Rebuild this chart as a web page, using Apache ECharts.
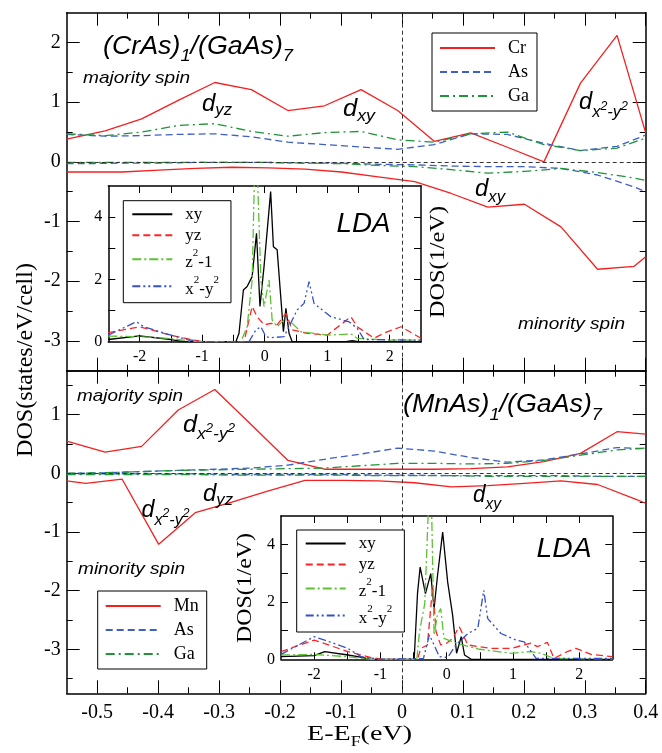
<!DOCTYPE html>
<html><head><meta charset="utf-8">
<script src="https://cdn.jsdelivr.net/npm/echarts@6/dist/echarts.min.js"></script>
<style>html,body{margin:0;padding:0;background:#fff}#c{width:662px;height:753px}</style>
</head><body><div id="c"></div>
<script>
// ---------- main panels: energy grids (eV) ----------
const energyUp = [-0.55, -0.487, -0.427, -0.367, -0.307, -0.247, -0.187, -0.127, -0.067, -0.007, 0.053, 0.113, 0.173, 0.233, 0.293, 0.353, 0.4];
const energyDn = [-0.55, -0.519, -0.459, -0.399, -0.339, -0.279, -0.219, -0.159, -0.099, -0.039, 0.021, 0.081, 0.141, 0.201, 0.261, 0.321, 0.381, 0.4];

// (CrAs)1/(GaAs)7
const crUp = [0.38, 0.52, 0.72, 1.03, 1.33, 1.21, 0.86, 0.94, 1.21, 0.86, 0.345, 0.485, 0.245, 0.0, 1.32, 2.12, 0.485];
const asUpCr = [0.46, 0.43, 0.44, 0.46, 0.47, 0.42, 0.33, 0.29, 0.25, 0.21, 0.29, 0.47, 0.46, 0.31, 0.19, 0.26, 0.45];
const gaUpCr = [0.47, 0.44, 0.50, 0.61, 0.64, 0.51, 0.43, 0.49, 0.51, 0.37, 0.33, 0.47, 0.50, 0.29, 0.19, 0.23, 0.40];
const crDn = [-0.17, -0.17, -0.17, -0.14, -0.11, -0.09, -0.10, -0.12, -0.17, -0.25, -0.33, -0.53, -0.76, -0.71, -1.09, -1.80, -1.75, -1.59];
const asDnCr = [-0.03, -0.03, -0.02, -0.02, -0.01, -0.01, -0.01, -0.02, -0.02, -0.04, -0.05, -0.07, -0.08, -0.08, -0.11, -0.22, -0.42, -0.50];
const gaDnCr = [-0.01, -0.01, -0.01, -0.01, -0.01, -0.01, -0.01, -0.02, -0.03, -0.06, -0.08, -0.13, -0.19, -0.16, -0.11, -0.18, -0.27, -0.31];

// (MnAs)1/(GaAs)7
const mnUp = [0.55, 0.36, 0.46, 1.08, 1.43, 0.83, 0.22, 0.07, 0.07, 0.07, 0.07, 0.08, 0.11, 0.20, 0.34, 0.71, 0.67];
const asUpMn = [0.00, 0.01, 0.03, 0.05, 0.07, 0.09, 0.14, 0.24, 0.33, 0.43, 0.38, 0.27, 0.19, 0.23, 0.33, 0.44, 0.42];
const gaUpMn = [0.00, 0.01, 0.03, 0.05, 0.06, 0.07, 0.08, 0.09, 0.13, 0.17, 0.17, 0.16, 0.17, 0.22, 0.31, 0.40, 0.43];
const mnDn = [-0.13, -0.17, -0.10, -1.21, -0.67, -0.49, -0.30, -0.12, -0.12, -0.13, -0.16, -0.23, -0.21, -0.17, -0.13, -0.19, -0.43, -0.51];
const asDnMn = [-0.01, -0.01, -0.01, -0.01, -0.01, -0.02, -0.02, -0.02, -0.02, -0.03, -0.03, -0.04, -0.04, -0.04, -0.04, -0.05, -0.05, -0.05];
const gaDnMn = [-0.02, -0.02, -0.02, -0.02, -0.02, -0.03, -0.03, -0.03, -0.03, -0.04, -0.04, -0.04, -0.05, -0.05, -0.05, -0.05, -0.05, -0.05];

// ---------- LDA insets ----------
const crLdaXyE = [-2.5, -2.0, -1.5, -1.3, -0.46, -0.41, -0.34, -0.28, -0.20, -0.13, -0.075, -0.01, 0.096, 0.14, 0.20, 0.30, 0.34, 0.39, 0.44, 1.3, 1.4, 1.5, 2.5];
const crLdaXy  = [0.07, 0.19, 0.07, 0.0, 0.0, 0.27, 1.66, 1.77, 2.09, 3.48, 1.13, 2.41, 4.82, 3.05, 2.95, 0.32, 1.07, 0.27, 0.0, 0.0, 0.03, 0.0, 0.0];
const crLdaYzE = [-2.5, -2.0, -1.5, -1.13, -1.0, -0.33, -0.2, -0.12, -0.01, 0.1, 0.2, 0.34, 0.44, 0.68, 1.0, 1.38, 1.48, 1.75, 1.9, 2.18, 2.5];
const crLdaYz  = [0.29, 0.48, 0.21, 0.05, 0.0, 0.0, 1.13, 0.8, 0.54, 0.59, 0.54, 0.91, 0.38, 0.27, 0.21, 0.8, 0.48, 0.11, 0.27, 0.48, 0.11];
const crLdaZ2E = [-2.5, -2.0, -1.5, -1.1, -0.38, -0.28, -0.2, -0.16, -0.12, -0.06, -0.01, 0.07, 0.12, 0.2, 0.31, 0.44, 0.58, 1.0, 1.38, 1.48, 2.0, 2.5];
const crLdaZ2  = [0.18, 0.16, 0.1, 0.0, 0.0, 0.48, 1.98, 5.6, 5.6, 2.0, 1.13, 1.98, 0.7, 0.48, 0.7, 0.59, 0.32, 0.21, 0.25, 0.11, 0.05, 0.05];
const crLdaX2E = [-2.5, -2.05, -1.93, -1.5, -1.24, -1.0, -0.25, -0.14, -0.06, 0.02, 0.1, 0.31, 0.52, 0.63, 0.71, 0.79, 1.06, 1.35, 1.48, 1.59, 2.5];
const crLdaX2  = [0.21, 0.64, 0.48, 0.21, 0.07, 0.0, 0.0, 0.38, 0.48, 0.16, 0.13, 0.16, 1.02, 1.23, 1.93, 1.23, 0.8, 0.64, 0.43, 0.07, 0.05];

const mnLdaXyE = [-2.5, -2.0, -1.84, -1.49, -1.34, -1.14, -0.49, -0.44, -0.4, -0.32, -0.24, -0.19, -0.14, -0.06, 0.015, 0.09, 0.15, 0.22, 0.27, 0.37, 2.5];
const mnLdaXy  = [0.09, 0.13, 0.27, 0.15, 0.09, 0.0, 0.0, 2.29, 3.22, 2.29, 2.99, 1.77, 2.87, 4.44, 2.7, 1.54, 0.21, 0.79, 0.15, 0.0, 0.0];
const mnLdaYzE = [-2.5, -2.0, -1.49, -1.14, -0.95, -0.44, -0.39, -0.29, -0.21, -0.16, -0.09, 0.0, 0.09, 0.19, 0.32, 0.67, 0.97, 1.27, 1.37, 1.52, 1.62, 1.82, 1.95, 2.18, 2.5];
const mnLdaYz  = [0.27, 0.67, 0.27, 0.06, 0.0, 0.0, 0.38, 0.5, 2.58, 0.96, 0.5, 0.56, 0.73, 1.14, 0.5, 0.38, 0.38, 0.56, 0.44, 0.59, 0.03, 0.27, 0.38, 0.17, 0.09];
const mnLdaZ2E = [-2.5, -2.0, -1.49, -1.14, -0.45, -0.41, -0.33, -0.27, -0.23, -0.19, -0.14, -0.09, -0.04, 0.09, 0.24, 0.47, 0.97, 1.27, 1.42, 1.62, 2.5];
const mnLdaZ2  = [0.15, 0.17, 0.09, 0.0, 0.0, 0.96, 1.95, 5.6, 5.6, 0.85, 1.54, 1.77, 0.73, 0.61, 0.5, 0.36, 0.21, 0.27, 0.21, 0.03, 0.01];
const mnLdaX2E = [-2.5, -2.0, -1.84, -1.49, -1.29, -1.0, -0.35, -0.26, -0.19, -0.11, 0.015, 0.14, 0.32, 0.47, 0.56, 0.62, 0.82, 1.05, 1.17, 1.35, 2.5];
const mnLdaX2  = [0.17, 0.79, 0.67, 0.38, 0.09, 0.0, 0.03, 0.85, 0.5, 0.09, 0.06, 0.5, 0.9, 1.08, 2.41, 1.42, 0.9, 0.67, 0.61, 0.03, 0.03];

// ---------- ticks / labels ----------
const xMajor = [-0.5, -0.4, -0.3, -0.2, -0.1, 0, 0.1, 0.2, 0.3, 0.4];
const xMinor = [-0.45, -0.35, -0.25, -0.15, -0.05, 0.05, 0.15, 0.25, 0.35];
const topYMajor = [-3, -2, -1, 0, 1, 2];
const topYMinor = [-2.5, -1.5, -0.5, 0.5, 1.5];
const botYMajor = [-3, -2, -1, 0, 1];
const botYMinor = [-3.5, -2.5, -1.5, -0.5, 0.5, 1.5];
const insetXTicks = [-2, -1.5, -1, -0.5, 0, 0.5, 1, 1.5, 2];
const insetXLabels = [-2, -1, 0, 1, 2];
const insetYTicks = [1, 2, 3, 4];
const insetYLabels = [0, 2, 4];

const SERIF = 'Liberation Serif', SANS = 'Liberation Sans';
const RED = '#f42020', BLUE = '#3d5fc6', GREEN = '#1f9438';
const IRED = '#ff2424', IGREEN = '#5cc234', IBLUE = '#3550c8';
const DASH = [7, 4], DASHDOT = [9, 4, 2, 4], IDASHDOT = [9, 3, 2, 3], IDDOT = [8, 3, 2, 3, 2, 3];

const fmt = v => String(Math.round(v * 100) / 100);
const xAxes = [], yAxes = [];
function addAxis(arr, grid, min, max, pos, ticks, len, labels, lab, z, line) {
  arr.push({
    type: 'value', gridIndex: grid, min: min, max: max, position: pos, z: z || 0,
    axisLine: { show: !!line, onZero: false, lineStyle: { color: '#000', width: 1.5 } },
    axisTick: { show: true, inside: true, length: len, customValues: ticks, lineStyle: { color: '#000', width: 1 } },
    axisLabel: labels ? Object.assign({ show: true, customValues: labels, color: '#000', fontFamily: SERIF, formatter: fmt }, lab) : { show: false },
    splitLine: { show: false }, axisPointer: { show: false }
  });
  return arr.length - 1;
}
const mainXLab = { fontSize: 20, margin: 9 };
const mainYLab = { fontSize: 20, margin: 6 };
const insXLab = { fontSize: 16, margin: 7 };
const insYLab = { fontSize: 16, margin: 6 };

// grid 0: top main
const x0 = addAxis(xAxes, 0, -0.55, 0.4, 'bottom', xMajor, 13, null, null, 0, true);
addAxis(xAxes, 0, -0.55, 0.4, 'bottom', xMinor, 6, null, null, 0, false);
addAxis(xAxes, 0, -0.55, 0.4, 'top', xMajor, 13, null, null, 0, true);
addAxis(xAxes, 0, -0.55, 0.4, 'top', xMinor, 6, null, null, 0, false);
const y0 = addAxis(yAxes, 0, -3.5, 2.5, 'left', topYMajor, 13, topYMajor, mainYLab, 0, true);
addAxis(yAxes, 0, -3.5, 2.5, 'left', topYMinor, 6, null, null, 0, false);
addAxis(yAxes, 0, -3.5, 2.5, 'right', topYMajor, 13, null, null, 0, true);
addAxis(yAxes, 0, -3.5, 2.5, 'right', topYMinor, 6, null, null, 0, false);
// grid 1: bottom main
const x1 = addAxis(xAxes, 1, -0.55, 0.4, 'bottom', xMajor, 13, xMajor, mainXLab, 0, true);
addAxis(xAxes, 1, -0.55, 0.4, 'bottom', xMinor, 6, null, null, 0, false);
addAxis(xAxes, 1, -0.55, 0.4, 'top', xMajor, 13, null, null, 0, true);
addAxis(xAxes, 1, -0.55, 0.4, 'top', xMinor, 6, null, null, 0, false);
const y1 = addAxis(yAxes, 1, -3.75, 1.75, 'left', botYMajor, 13, botYMajor, mainYLab, 0, true);
addAxis(yAxes, 1, -3.75, 1.75, 'left', botYMinor, 6, null, null, 0, false);
addAxis(yAxes, 1, -3.75, 1.75, 'right', botYMajor, 13, null, null, 0, true);
addAxis(yAxes, 1, -3.75, 1.75, 'right', botYMinor, 6, null, null, 0, false);
// grid 2: top inset
const x2 = addAxis(xAxes, 2, -2.5, 2.5, 'bottom', insetXTicks, 7, insetXLabels, insXLab, 6, true);
addAxis(xAxes, 2, -2.5, 2.5, 'top', insetXTicks, 7, null, null, 6, true);
const y2 = addAxis(yAxes, 2, 0, 5, 'left', insetYTicks, 7, insetYLabels, insYLab, 6, true);
addAxis(yAxes, 2, 0, 5, 'right', insetYTicks, 7, null, null, 6, true);
// grid 3: bottom inset
const x3 = addAxis(xAxes, 3, -2.5, 2.5, 'bottom', insetXTicks, 7, insetXLabels, insXLab, 6, true);
addAxis(xAxes, 3, -2.5, 2.5, 'top', insetXTicks, 7, null, null, 6, true);
const y3 = addAxis(yAxes, 3, 0, 5, 'left', insetYTicks, 7, insetYLabels, insYLab, 6, true);
addAxis(yAxes, 3, 0, 5, 'right', insetYTicks, 7, null, null, 6, true);

const zip = (xs, ys) => xs.map((x, i) => [x, ys[i]]);
function line(name, xs, ys, xi, yi, color, type, width, z) {
  return {
    name: name, type: 'line', xAxisIndex: xi, yAxisIndex: yi, data: zip(xs, ys),
    symbol: 'none', showSymbol: false, clip: true, z: z || 2, silent: true,
    lineStyle: { color: color, type: type, width: width }, itemStyle: { color: color, opacity: 0 },
    emphasis: { disabled: true }
  };
}
const refLines = {
  silent: true, symbol: ['none', 'none'], label: { show: false },
  lineStyle: { color: '#333', type: [4, 3], width: 1 }, emphasis: { disabled: true },
  data: [{ yAxis: 0 }, { xAxis: 0 }]
};

const W = 1.3;
const series = [
  Object.assign(line('Cr', energyUp, crUp, x0, y0, RED, 'solid', W), { markLine: refLines }),
  line('As', energyUp, asUpCr, x0, y0, BLUE, DASH, W),
  line('Ga', energyUp, gaUpCr, x0, y0, GREEN, DASHDOT, W),
  line('Cr', energyDn, crDn, x0, y0, RED, 'solid', W),
  line('As', energyDn, asDnCr, x0, y0, BLUE, DASH, W),
  line('Ga', energyDn, gaDnCr, x0, y0, GREEN, DASHDOT, W),

  Object.assign(line('Mn', energyUp, mnUp, x1, y1, RED, 'solid', W), { markLine: refLines }),
  line('As', energyUp, asUpMn, x1, y1, BLUE, DASH, W),
  line('Ga', energyUp, gaUpMn, x1, y1, GREEN, DASHDOT, W),
  line('Mn', energyDn, mnDn, x1, y1, RED, 'solid', W),
  line('As', energyDn, asDnMn, x1, y1, BLUE, DASH, W),
  line('Ga', energyDn, gaDnMn, x1, y1, GREEN, DASHDOT, W),

  line('xy', crLdaXyE, crLdaXy, x2, y2, '#000', 'solid', 1.3, 7),
  line('yz', crLdaYzE, crLdaYz, x2, y2, IRED, DASH, 1.3, 7),
  line('z2-1', crLdaZ2E, crLdaZ2, x2, y2, IGREEN, IDASHDOT, 1.3, 7),
  line('x2-y2', crLdaX2E, crLdaX2, x2, y2, IBLUE, IDDOT, 1.3, 7),

  line('xy', mnLdaXyE, mnLdaXy, x3, y3, '#000', 'solid', 1.3, 7),
  line('yz', mnLdaYzE, mnLdaYz, x3, y3, IRED, DASH, 1.3, 7),
  line('z2-1', mnLdaZ2E, mnLdaZ2, x3, y3, IGREEN, IDASHDOT, 1.3, 7),
  line('x2-y2', mnLdaX2E, mnLdaX2, x3, y3, IBLUE, IDDOT, 1.3, 7)
];

function mainLegend(names, left, top) {
  return {
    data: names, left: left, top: top, orient: 'vertical', selectedMode: false, z: 8,
    itemWidth: 55, itemHeight: 14, itemGap: 6, padding: [6, 8, 6, 7],
    itemStyle: { opacity: 0 },
    borderColor: '#000', borderWidth: 1, backgroundColor: '#fff', borderRadius: 0,
    textStyle: { fontFamily: SERIF, fontSize: 18, color: '#000', padding: [0, 0, 0, 8] }
  };
}
const insetNames = { 'xy': 'xy', 'yz': 'yz', 'z2-1': '{b|z}{s|2}{b|-1}', 'x2-y2': '{b|x}{s|2}{b|-y}{s|2}' };
function insetLegend(left, top) {
  return {
    data: ['xy', 'yz', 'z2-1', 'x2-y2'], left: left, top: top, orient: 'vertical', selectedMode: false, z: 8,
    itemWidth: 40, itemHeight: 14, itemGap: 4, padding: [5, 12, 5, 8],
    itemStyle: { opacity: 0 },
    borderColor: '#000', borderWidth: 1, backgroundColor: '#fff', borderRadius: 0,
    formatter: n => insetNames[n],
    textStyle: {
      fontFamily: SERIF, fontSize: 17, color: '#000', padding: [0, 0, 0, 8],
      rich: {
        b: { fontFamily: SERIF, fontSize: 17, color: '#000', lineHeight: 23, verticalAlign: 'bottom' },
        s: { fontFamily: SERIF, fontSize: 11, color: '#000', lineHeight: 11, verticalAlign: 'top' }
      }
    }
  };
}

// ---------- text annotations ----------
const mctx = document.createElement('canvas').getContext('2d');
const fontStr = (size, fam, it) => (it ? 'italic ' : '') + size + 'px "' + fam + '"';
function textGroup(parts, x0, base, width, fam, it) {
  let cx = 0; const children = [];
  for (const [t, size, dy] of parts) {
    const font = fontStr(size, fam, it);
    mctx.font = font;
    children.push({ type: 'text', x: cx, y: base + dy - 0.31 * size, z: 50,
      style: { text: t, font: font, fill: '#000', align: 'left', verticalAlign: 'middle', textAlign: 'left', textVerticalAlign: 'middle' } });
    cx += mctx.measureText(t).width;
  }
  const s = width ? Math.max(0.8, Math.min(1.4, width / cx)) : 1;
  return { type: 'group', x: x0, y: 0, scaleX: s, z: 50, children: children };
}
function vText(t, size, cx, cy, length, fam) {
  const font = fontStr(size, fam, false);
  mctx.font = font;
  const w = mctx.measureText(t).width;
  return { type: 'group', x: cx, y: cy, rotation: Math.PI / 2, scaleX: Math.max(0.8, Math.min(1.4, length / w)), z: 50,
    children: [{ type: 'text', x: 0, y: 0, z: 50,
      style: { text: t, font: font, fill: '#000', align: 'center', verticalAlign: 'middle', textAlign: 'center', textVerticalAlign: 'middle' } }] };
}
const dX2Y2 = (ds, ss, sup, sdy, pdy) => [['d', ds, 0], ['x', ss, sdy], ['2', sup, pdy], ['-', ss, sdy], ['y', ss, sdy], ['2', sup, pdy]];

const graphic = [
  textGroup([['(CrAs)', 25, 0], ['1', 17, 7], ['/(GaAs)', 25, 0], ['7', 17, 7]], 103, 55, 190, SANS, true),
  textGroup([['majority spin', 17, 0]], 83, 83.5, 107, SANS, true),
  textGroup([['d', 23, 0], ['yz', 16, 4]], 202, 111.5, 30, SANS, true),
  textGroup([['d', 23, 0], ['xy', 16, 5]], 343, 116.5, 32, SANS, true),
  textGroup(dX2Y2(23, 16, 12, 8, 0.5), 579, 110, 49, SANS, true),
  textGroup([['d', 23, 0], ['xy', 16, 6]], 475, 196.5, 30, SANS, true),
  textGroup([['minority spin', 17, 0]], 518, 329.5, 107, SANS, true),
  textGroup([['LDA', 28, 0]], 336.5, 233, 54, SANS, true),

  textGroup([['majority spin', 17, 0]], 77, 402, 106, SANS, true),
  textGroup([['(MnAs)', 25, 0], ['1', 17, 8], ['/(GaAs)', 25, 0], ['7', 17, 8]], 403, 413, 199, SANS, true),
  textGroup(dX2Y2(23, 16, 12, 7, -1), 183, 433, 52, SANS, true),
  textGroup(dX2Y2(23, 16, 12, 8, -1), 141.5, 518, 48, SANS, true),
  textGroup([['d', 23, 0], ['yz', 16, 4.5]], 203, 501.5, 30, SANS, true),
  textGroup([['d', 23, 0], ['xy', 16, 7]], 473, 503, 28, SANS, true),
  textGroup([['minority spin', 17, 0]], 78, 574.5, 107, SANS, true),
  textGroup([['LDA', 28, 0]], 536.5, 558, 55, SANS, true),

  textGroup([['E-E', 22, 0], ['F', 14, 5], ['(eV)', 22, 0]], 307, 741.5, 105, SERIF, false),
  vText('DOS(states/eV/cell)', 23, 26, 360, 194, SERIF),
  vText('DOS(1/eV)', 22, 438, 262, 112, SERIF),
  vText('DOS(1/eV)', 22, 245, 588, 110, SERIF)
];

const option = {
  animation: false,
  backgroundColor: '#fff',
  grid: [
    { left: 66.7, top: 12.7, width: 579, height: 358 },
    { left: 66.7, top: 370.7, width: 579, height: 322.6 },
    { left: 108.3, top: 186, width: 312.7, height: 155.7, show: true, backgroundColor: '#fff', borderWidth: 0, z: 5 },
    { left: 281, top: 516, width: 331.3, height: 143.3, show: true, backgroundColor: '#fff', borderWidth: 0, z: 5 }
  ],
  xAxis: xAxes,
  yAxis: yAxes,
  legend: [
    mainLegend(['Cr', 'As', 'Ga'], 432, 33),
    mainLegend(['Mn', 'As', 'Ga'], 97.7, 591),
    insetLegend(123.3, 200.7),
    insetLegend(296.7, 530)
  ],
  series: series,
  graphic: graphic
};
const chart = echarts.init(document.getElementById('c'), null, { renderer: 'canvas' });
chart.setOption(option);
</script></body></html>
